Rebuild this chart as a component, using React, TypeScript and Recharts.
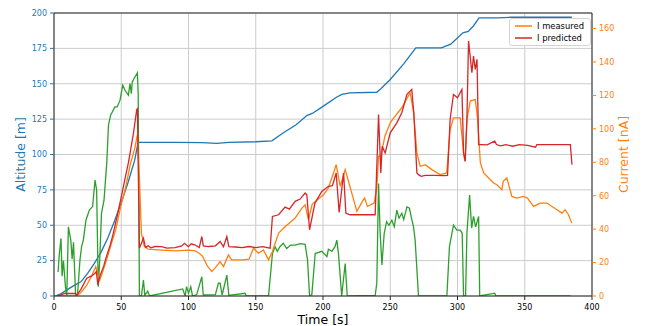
import React from 'react';
import { LineChart, Line, XAxis, YAxis, CartesianGrid, ReferenceLine } from 'recharts';

// Time ticks [s] and axis ticks
const timeTicks = [0, 50, 100, 150, 200, 250, 300, 350, 400];
const altitudeTicks = [0, 25, 50, 75, 100, 125, 150, 175, 200];
const currentTicks = [0, 20, 40, 60, 80, 100, 120, 140, 160];

// Altitude [m] over time [s]
const altitude: [number, number][] = [
  [1, 0], [5, 1.5], [10, 4.5], [15, 7.5], [20, 10], [25, 16], [30, 23], [35, 31], [40, 41],
  [45, 53], [50, 66], [55, 80], [60, 96], [62.5, 108.5], [70, 108.5], [90, 108.6], [110, 108.4],
  [121, 107.8], [130, 108.5], [150, 109], [162, 109.7], [170, 115], [180, 121], [188, 127.5],
  [192, 129], [200, 134], [210, 140.5], [214, 142.5], [220, 143.5], [240, 144], [243, 146.5],
  [250, 153], [260, 164], [269, 175.3], [288, 175.3], [295, 178], [304, 186], [308, 187],
  [312, 191], [316, 196.5], [330, 196.5], [340, 197], [385, 197],
];

// Measured current [nA]
const currentMeasured: [number, number][] = [
  [3, 0], [17, 0], [20, 2], [24, 6], [28, 12], [31, 17.6], [33, 12], [34, 9.6], [36, 14], [40, 24],
  [42, 29.6], [46, 40], [49.6, 53.6], [53, 64], [57, 79.6], [60, 88], [62, 96.6], [63.5, 70],
  [65, 37.6], [67, 30], [70, 28], [80, 27.5], [90, 27], [100, 27.5], [105, 27], [108, 25.6],
  [110.6, 23.6], [114, 18], [117.3, 14.6], [120, 17], [123.5, 20.6], [126, 17.6], [129.7, 24.6],
  [132, 21.6], [140, 21.6], [145, 22], [148.3, 28.6], [152, 25.6], [155.7, 27.6], [159.5, 21.6],
  [162.4, 26.6], [167, 37.6], [172, 41.6], [179.3, 46.6], [184.3, 52.6], [186.7, 54.6],
  [189.2, 45.6], [192, 55], [200.4, 60.6], [204, 64.6], [208, 74], [209.8, 78.6], [212.8, 65.6],
  [216.5, 75.6], [220, 65.6], [225.2, 50.6], [230, 57.6], [231, 58.6], [233, 53.6], [238, 55.6],
  [240, 64.6], [241.3, 83.6], [243, 83.6], [246, 95.6], [250, 103.6], [252.6, 106.6],
  [258.6, 112.6], [264.8, 121.6], [267.4, 109.6], [269.8, 85.6], [272.3, 77.6], [276, 78.6],
  [281, 75.6], [287, 72.6], [292, 73.6], [294.5, 99.6], [297, 106.6], [302, 106.6],
  [304.5, 85.6], [305.7, 80.6], [307, 105.6], [309.5, 116.6], [313.2, 117.6], [315, 105.6],
  [317, 79.6], [319.5, 73.6], [321.9, 71.6], [326.8, 67.6], [329.3, 66.6], [333, 63.6],
  [334, 68.6], [336.7, 70.6], [340.4, 59.6], [344, 58.6], [349, 59.6], [352, 58.6],
  [356.5, 53.6], [361.5, 55.6], [366.5, 55.6], [373.9, 51.6], [377.7, 49.6], [380, 51.6],
  [382.5, 48.6], [385, 43.6],
];

// Predicted current [nA]
const currentPredicted: [number, number][] = [
  [3, 0], [8, 1.5], [16, 1.6], [17, 0.5], [20, 4], [24.3, 10.6], [28, 12], [30.5, 13.6],
  [31.5, 14.6], [32.6, 6.6], [34, 11.6], [37, 18], [39, 23.6], [42, 31], [44.1, 37.6], [47, 48],
  [50.1, 59.6], [53, 71], [55.3, 79.6], [57, 87.6], [59, 97], [61.5, 111.6], [62, 112],
  [63.5, 28.6], [66.5, 34.6], [68, 29], [70, 30], [72, 28.8], [75, 29.6], [80, 29.5], [84, 28.6],
  [90, 29], [95, 30], [97, 31.5], [100, 29.5], [102, 31.2], [105, 30.5], [108, 29], [109.9, 35.6],
  [111, 30], [115, 29.6], [120, 30], [123.5, 32.6], [126, 29.5], [128.5, 35.6], [130, 29.5],
  [135, 29.3], [140, 29], [145, 29.6], [150, 29], [155, 29.5], [160.7, 28.6], [162.4, 47.6],
  [167, 48.6], [171.8, 53.2], [175, 52], [179.3, 56.6], [183, 58], [186.7, 61.6], [188, 60.6],
  [190, 39.6], [194, 55.6], [199.1, 62.6], [204, 65.6], [207, 66], [209.8, 73.6], [212, 50],
  [215.3, 73.6], [217, 49.6], [220, 48.6], [230, 48.6], [238.8, 48.6], [241.3, 108.6],
  [243, 73.6], [244, 89.6], [246.2, 85.6], [250, 97.6], [254.9, 103.6], [258.6, 109.6],
  [262.4, 120.6], [266, 123.6], [267.5, 109.6], [269.8, 73.6], [271, 72.6], [273, 71.6],
  [276, 72.2], [283, 72.2], [290, 72], [292.6, 72.2], [294.5, 105.6], [297, 120.6], [300, 118.6],
  [303.3, 123.6], [304.5, 85.6], [305.7, 80.6], [307, 105.6], [308.2, 152.6], [310.7, 133.6],
  [311.9, 143.6], [313.2, 135.6], [314.5, 141.6], [315.7, 90.6], [318, 90.6], [322, 90.4],
  [327.7, 92.6], [329, 90.6], [332, 89.8], [336, 90.6], [341, 89.6], [346, 90.6], [352, 90.1],
  [358, 89], [359, 90.6], [370, 90.6], [383.9, 90.6], [385.1, 78.6],
];

// Auxiliary trace, plotted against the altitude scale
const auxSignal: [number, number][] = [
  [3, 17], [4, 30], [5.2, 40.7], [6, 14], [7, 25], [8.5, 6.6], [9.5, 0], [10.7, 48.9],
  [12.5, 39.5], [13.5, 26], [14.5, 38], [16.1, 0], [17.5, 1], [19.3, 25.4], [20.5, 34.8],
  [21.8, 39.5], [23.8, 53.7], [26.3, 60.7], [28.7, 63.2], [30.5, 81.9], [31.7, 74.8],
  [32.9, 6.6], [34, 25.4], [35.3, 58.4], [37.2, 67.8], [39.2, 93.7], [40.5, 120.7],
  [42.1, 127.8], [45.3, 133.6], [47, 133.6], [49.1, 138.4], [51.1, 149], [52.8, 145.4],
  [55.3, 141.9], [56.5, 150.2], [57.5, 143], [58.2, 151.3], [59.5, 153.7], [62, 157.7],
  [62.6, 143], [63.5, 0], [65, 0], [66.5, 11.3], [67.5, 0.5], [69.7, 3.5], [71, 0], [95.7, 5],
  [97.5, 0], [98.6, 6.6], [100, 2], [101.7, 6.6], [103, 0], [106.1, 1], [109.9, 13.6],
  [111, 0.7], [120, 1], [122.2, 9], [123.5, 9], [125, 0.7], [128.5, 14.8], [130, 0.5],
  [142, 1.9], [143, 0], [159.5, 0], [162.4, 30], [164.4, 34.8], [166, 31.6], [168, 34.8],
  [170.5, 37.2], [173, 33.5], [176, 36], [179.3, 36], [183, 37], [186.7, 36.5], [188.5, 25.4],
  [190, 0], [191.7, 1], [194.2, 30], [199.1, 31.6], [202.9, 27.8], [204, 33], [206.6, 31.6],
  [209, 35], [210.3, 39.5], [211.5, 30], [213.9, 0], [216.5, 23], [218, 0], [238.8, 0.5],
  [240, 9], [241.3, 79.5], [242.5, 44.3], [243.8, 21.9], [245.5, 44.3], [247.3, 52.5],
  [249, 50], [251.2, 53.6], [253, 49], [254.9, 60.7], [256.5, 55], [258.6, 58.4], [260, 54],
  [262.4, 63], [264.3, 62], [265.5, 56.2], [267.3, 48.9], [268.5, 39.5], [271, 0], [292.1, 0],
  [294, 34.8], [297, 50.1], [299.5, 46.6], [302, 46.6], [303.5, 44.3], [304.5, 0], [306, 0],
  [307, 44.3], [309, 71.3], [310.5, 48], [311.9, 56.2], [313.5, 48.9], [315.7, 56.2],
  [316.5, 0], [327.7, 2], [328.5, 0], [384, 0],
];

const toPoints = (pairs: [number, number][]) => pairs.map(([t, v]) => ({ t, v }));

const BLUE = '#1f77b4';
const ORANGE = '#ff7f0e';
const GREEN = '#2ca02c';
const RED = '#d62728';
const SPINE = '#262626';
const FONT = 'DejaVu Sans, sans-serif';

const AxisTitle = ({ viewBox, text, color, dx, rotate }: any) => {
  const { x, y, width, height } = viewBox;
  if (rotate) {
    const cx = x + dx;
    const cy = y + height / 2;
    return (
      <text x={cx} y={cy} fill={color} fontSize={12.5} fontFamily={FONT} textAnchor="middle"
        dominantBaseline="central" transform={`rotate(-90 ${cx} ${cy})`}>
        {text}
      </text>
    );
  }
  return (
    <text x={x + width / 2} y={y + 28} fill={color} fontSize={12.5} fontFamily={FONT} textAnchor="middle">
      {text}
    </text>
  );
};

const legendItems = [
  { label: 'I measured', color: ORANGE },
  { label: 'I predicted', color: RED },
];

export default function App() {
  return (
    <div style={{ position: 'absolute', left: 0, top: 0, width: 651, height: 326, background: '#fff', fontFamily: FONT }}>
      <LineChart width={651} height={326} margin={{ top: 13, right: 0, bottom: 0, left: 0 }}
        style={{ fontFamily: FONT }}>
        <CartesianGrid yAxisId="left" stroke="#cccccc" strokeWidth={1} />
        <XAxis
          dataKey="t" type="number" domain={[0, 400]} ticks={timeTicks} allowDataOverflow
          height={30} tickSize={4} tickMargin={4}
          tick={{ fill: '#000', fontSize: 8, fontFamily: FONT }}
          stroke={SPINE}
          label={{ content: (p: any) => <AxisTitle {...p} text="Time [s]" color="#000" /> }}
        />
        <YAxis
          yAxisId="left" type="number" domain={[0, 200]} ticks={altitudeTicks} allowDataOverflow
          width={54} tickSize={4} tickMargin={3}
          tick={{ fill: BLUE, fontSize: 8, fontFamily: FONT }}
          axisLine={{ stroke: SPINE }} tickLine={{ stroke: BLUE }}
          label={{ content: (p: any) => <AxisTitle {...p} text="Altitude [m]" color={BLUE} dx={20.7} rotate /> }}
        />
        <YAxis
          yAxisId="right" orientation="right" type="number" domain={[0, 169.3]} ticks={currentTicks}
          allowDataOverflow width={59} tickSize={4} tickMargin={3}
          tick={{ fill: ORANGE, fontSize: 8, fontFamily: FONT }}
          axisLine={{ stroke: SPINE }} tickLine={{ stroke: ORANGE }}
          label={{ content: (p: any) => <AxisTitle {...p} text="Current [nA]" color={ORANGE} dx={31.3} rotate /> }}
        />
        <ReferenceLine yAxisId="left" y={200} stroke={SPINE} strokeWidth={1} />
        <Line yAxisId="left" data={toPoints(altitude)} dataKey="v" type="linear" stroke={BLUE}
          strokeWidth={1.3} dot={false} isAnimationActive={false} />
        <Line yAxisId="left" data={toPoints(auxSignal)} dataKey="v" type="linear" stroke={GREEN}
          strokeWidth={1.3} dot={false} isAnimationActive={false} />
        <Line yAxisId="right" data={toPoints(currentMeasured)} dataKey="v" type="linear" stroke={ORANGE}
          strokeWidth={1.3} dot={false} isAnimationActive={false} name="I measured" />
        <Line yAxisId="right" data={toPoints(currentPredicted)} dataKey="v" type="linear" stroke={RED}
          strokeWidth={1.3} dot={false} isAnimationActive={false} name="I predicted" />
      </LineChart>
      <div style={{
        position: 'absolute', left: 509, top: 18, width: 80, height: 26,
        border: '1px solid #d4d4d4', borderRadius: 3, background: 'rgba(255,255,255,0.85)',
      }}>
        {legendItems.map((item, i) => (
          <div key={item.label} style={{
            position: 'absolute', left: 5, top: 0.5 + i * 12.7, height: 12, display: 'flex', alignItems: 'center',
          }}>
            <svg width={17} height={4} style={{ flexShrink: 0, display: 'block' }}>
              <line x1={0} y1={2} x2={17} y2={2} stroke={item.color} strokeWidth={1.5} />
            </svg>
            <span style={{ marginLeft: 5, fontSize: 8.4, color: '#000', whiteSpace: 'nowrap', lineHeight: '12px' }}>
              {item.label}
            </span>
          </div>
        ))}
      </div>
    </div>
  );
}
